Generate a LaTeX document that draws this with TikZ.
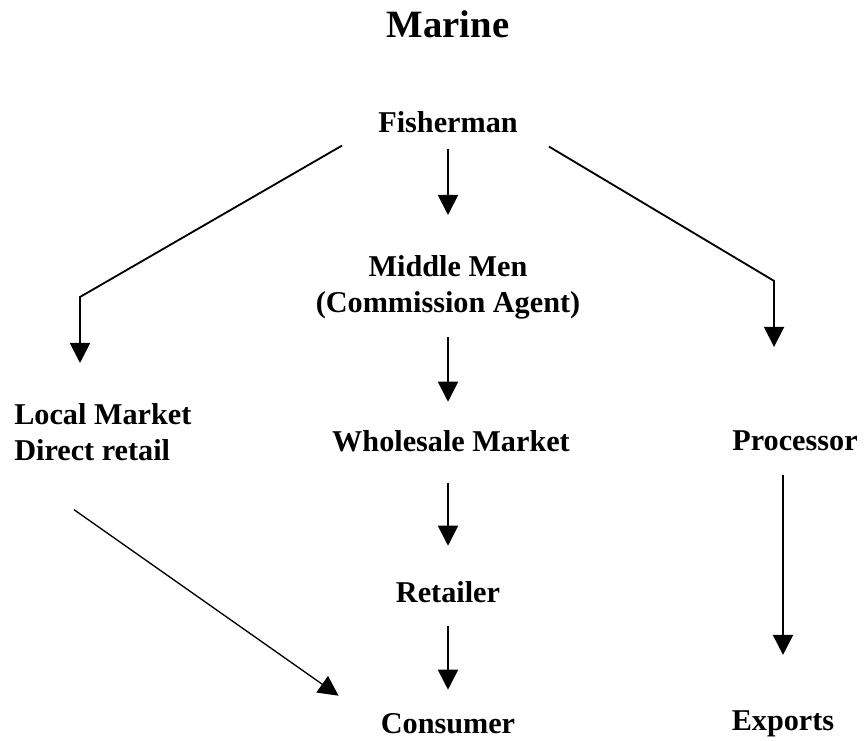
\documentclass[tikz,border=0pt]{standalone}
\usepackage{fontspec}
\setmainfont{Liberation Serif}
\usepackage{tikz}
\usetikzlibrary{arrows.meta}

\begin{document}
\begin{tikzpicture}[
        lbl/.style={anchor=base, inner sep=0pt, font=\fontsize{21.5}{25.5}\selectfont\bfseries},
        flow/.style={-{Triangle[length=0.5cm, width=0.5cm]}, line width=1.3pt}]
        \useasboundingbox (0,0) rectangle (21.65,18.5);

        % Title
        \draw (11.2,17.55) node[lbl, font=\fontsize{27.5}{32}\selectfont\bfseries] (title) {Marine};

        % Middle chain.
        \draw (11.2,15.175) node[lbl] (fish) {Fisherman};
        \draw (11.2,12.125) node[lbl, anchor=north, align=center] (mid) {Middle Men\\(Commission Agent)};
        \draw (11.275,7.2) node[lbl] (whole) {Wholesale Market};
        \draw (11.2,3.45) node[lbl] (ret) {Retailer};
        \draw (11.2,0.175) node[lbl] (cons) {Consumer};

        % Side branches.
        \draw (0.35,8.425) node[lbl, anchor=north west, align=left] (local) {Local Market\\Direct retail};
        \draw (19.875,7.225) node[lbl] (proc) {Processor};
        \draw (19.575,0.25) node[lbl] (exp) {Exports};

        % Arrows
        \draw[flow] ([yshift=-0.375cm]fish.south) -- ([yshift=1cm]mid.north);
        \draw[flow] ([yshift=-0.45cm]mid.south) -- ([yshift=0.725cm]mid.south |- whole.north);
        \draw[flow] ([yshift=-0.75cm]ret.north |- whole.south) -- ([yshift=0.875cm]ret.north);
        \draw[flow] ([yshift=-0.575cm]ret.south) -- ([yshift=0.575cm]cons.north);
        \draw[flow] ([yshift=-0.575cm]exp.north |- proc.south) -- ([yshift=1.375cm]exp.north);

        \draw[flow] ([xshift=-0.9cm, yshift=-0.3cm]fish.south west)
            -- ([xshift=1.65cm, yshift=2.65cm]local.north west)
            -- ([xshift=1.65cm, yshift=1cm]local.north west);
        \draw[flow] ([xshift=0.775cm, yshift=-0.325cm]fish.south east)
            -- ([xshift=1.05cm, yshift=3.75cm]proc.north west)
            -- ([xshift=1.05cm, yshift=2.1cm]proc.north west);
        \draw[flow, line width=0.95pt] ([xshift=1.5cm, yshift=-1.225cm]local.south west)
            -- ([xshift=-1.05cm, yshift=0.425cm]cons.north west);
    \end{tikzpicture}
\end{document}
